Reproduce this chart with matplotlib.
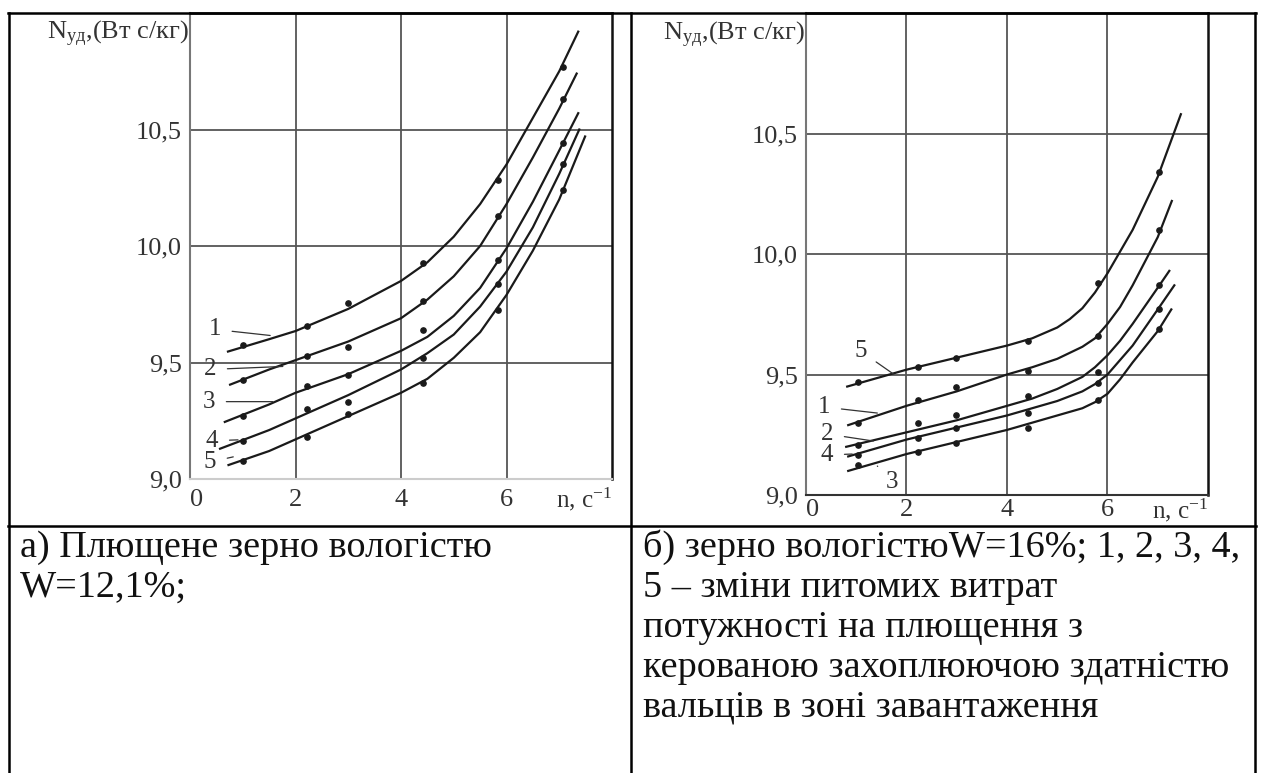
import matplotlib
matplotlib.use("Agg")
import matplotlib.pyplot as plt
from matplotlib.lines import Line2D

plt.rcParams["font.family"] = ["Liberation Serif", "DejaVu Serif"]
plt.rcParams["mathtext.fontset"] = "custom"
plt.rcParams["mathtext.rm"] = "Liberation Serif"
plt.rcParams["mathtext.it"] = "Liberation Serif:italic"

W, H = 1262, 773

# ---- chart a) W=12,1% : measured points and drawn curves
a_pts_x = [1.0, 2.22, 3.0, 4.42, 5.83, 7.07]
a_pts = {
    1: [9.573, 9.655, 9.754, 9.927, 10.284, 10.77],
    2: [9.427, 9.53, 9.565, 9.763, 10.13, 10.63],
    3: [9.27, 9.40, 9.448, 9.638, 9.94, 10.44],
    4: [9.164, 9.30, 9.33, 9.52, 9.836, 10.35],
    5: [9.078, 9.18, 9.28, 9.414, 9.724, 10.24],
}
a_curve_x = {
    1: [0.72, 1.5, 2.0, 3.0, 4.0, 4.5, 5.0, 5.5, 6.0, 6.5, 7.0, 7.36],
    2: [0.76, 1.5, 2.0, 3.0, 4.0, 4.5, 5.0, 5.5, 6.0, 6.5, 7.0, 7.33],
    3: [0.66, 1.5, 2.0, 3.0, 4.0, 4.5, 5.0, 5.5, 6.0, 6.5, 7.0, 7.36],
    4: [0.57, 1.5, 2.0, 3.0, 4.0, 4.5, 5.0, 5.5, 6.0, 6.5, 7.0, 7.38],
    5: [0.73, 1.5, 2.0, 3.0, 4.0, 4.5, 5.0, 5.5, 6.0, 6.5, 7.0, 7.49],
}
a_curve_y = {
    1: [9.547, 9.60, 9.635, 9.73, 9.85, 9.93, 10.04, 10.18, 10.35, 10.55, 10.75, 10.92],
    2: [9.405, 9.47, 9.51, 9.59, 9.69, 9.77, 9.87, 10.0, 10.18, 10.38, 10.59, 10.74],
    3: [9.245, 9.32, 9.37, 9.45, 9.55, 9.61, 9.70, 9.82, 9.99, 10.19, 10.41, 10.57],
    4: [9.13, 9.21, 9.26, 9.36, 9.47, 9.54, 9.62, 9.74, 9.89, 10.08, 10.31, 10.50],
    5: [9.06, 9.12, 9.17, 9.27, 9.37, 9.43, 9.52, 9.63, 9.79, 9.98, 10.20, 10.47],
}
# label text position, leader end
a_labels = {
    1: ((0.47, 9.642), (1.52, 9.616)),
    2: ((0.38, 9.47), (1.76, 9.483)),
    3: ((0.36, 9.332), (1.57, 9.332)),
    4: ((0.42, 9.164), (0.91, 9.168)),
    5: ((0.38, 9.073), (0.82, 9.095)),
}

# ---- chart б) W=16%
b_pts_x = [1.04, 2.22, 2.98, 4.42, 5.82, 7.03]
b_pts = {
    5: [9.469, 9.531, 9.568, 9.64, 9.88, 10.34],
    1: [9.30, 9.394, 9.448, 9.515, 9.66, 10.10],
    2: [9.207, 9.30, 9.33, 9.41, 9.51, 9.87],
    4: [9.166, 9.237, 9.28, 9.34, 9.465, 9.77],
    3: [9.124, 9.18, 9.216, 9.28, 9.394, 9.69],
}
b_curve_x = {
    5: [0.82, 2.0, 3.0, 4.0, 4.5, 5.0, 5.25, 5.5, 5.75, 6.0, 6.5, 7.0, 7.46],
    1: [0.84, 2.0, 3.0, 4.0, 4.5, 5.0, 5.5, 5.75, 6.0, 6.25, 6.5, 7.0, 7.28],
    2: [0.80, 2.0, 3.0, 4.0, 4.5, 5.0, 5.5, 5.75, 6.0, 6.25, 6.5, 7.0, 7.23],
    4: [0.84, 2.0, 3.0, 4.0, 4.5, 5.0, 5.5, 5.75, 6.0, 6.25, 6.5, 7.0, 7.33],
    3: [0.84, 2.0, 3.0, 4.0, 4.5, 5.0, 5.5, 5.75, 6.0, 6.25, 6.5, 7.0, 7.27],
}
b_curve_y = {
    5: [9.45, 9.52, 9.57, 9.62, 9.65, 9.695, 9.73, 9.775, 9.84, 9.92, 10.10, 10.32, 10.58],
    1: [9.29, 9.37, 9.43, 9.50, 9.53, 9.565, 9.615, 9.65, 9.71, 9.78, 9.87, 10.07, 10.22],
    2: [9.20, 9.26, 9.31, 9.37, 9.40, 9.44, 9.49, 9.53, 9.58, 9.64, 9.71, 9.86, 9.93],
    4: [9.16, 9.23, 9.28, 9.33, 9.36, 9.39, 9.43, 9.46, 9.50, 9.56, 9.62, 9.77, 9.87],
    3: [9.10, 9.17, 9.22, 9.27, 9.30, 9.33, 9.36, 9.385, 9.42, 9.48, 9.55, 9.68, 9.77],
}
b_labels = {
    5: ((1.08, 9.598), (1.74, 9.502)),
    1: ((0.36, 9.365), (1.42, 9.34)),
    2: ((0.42, 9.253), (1.34, 9.224)),
    4: ((0.42, 9.166), (0.92, 9.17)),
    3: ((1.72, 9.054), (1.42, 9.12)),
}

x_ticks = [0, 2, 4, 6]
y_ticks = [9.0, 9.5, 10.0, 10.5]
y_tick_labels = ["9,0", "9,5", "10,0", "10,5"]

caption_a = ["а) Плющене зерно вологістю", "W=12,1%;"]
caption_b = ["б) зерно вологістюW=16%; 1, 2, 3, 4,",
             "5 – зміни питомих витрат",
             "потужності на плющення з",
             "керованою захоплюючою здатністю",
             "вальців в зоні завантаження"]

INK = "#1a1a1a"
GRID = "#555555"
LBL = "#333333"
TICK_FS = 19


def px_box(x0, x1, y_top, y_bot):
    return [x0 / W, 1 - y_bot / H, (x1 - x0) / W, (y_bot - y_top) / H]


def draw_chart(ax, pts_x, pts, curve_x, curve_y, labels, xpad, n_y):
    ax.set_xlim(0, 8)
    ax.set_ylim(9.0, 11.0)
    for k in curve_x:
        ax.plot(curve_x[k], curve_y[k], color=INK, lw=1.6, zorder=3)
        ax.plot(pts_x, pts[k], "o", color=INK, ms=3.8, zorder=4)
    for k, (txt, end) in labels.items():
        ax.annotate(str(k), xy=end, xytext=txt, fontsize=18, color=LBL,
                    ha="center", va="center",
                    arrowprops=dict(arrowstyle="-", color=LBL, lw=0.9,
                                    shrinkA=6, shrinkB=0))
    ax.set_xticks(x_ticks)
    ax.set_xticklabels([str(t) for t in x_ticks], fontsize=TICK_FS, color=LBL)
    ax.get_xticklabels()[0].set_ha("left")
    ax.set_yticks(y_ticks)
    ax.set_yticklabels(y_tick_labels, fontsize=TICK_FS, color=LBL)
    ax.tick_params(axis="y", length=0, pad=6)
    ax.tick_params(axis="x", length=0, pad=xpad)
    ax.grid(True, color=GRID, lw=1.3)
    ax.set_axisbelow(True)
    for s in ("left", "bottom"):
        ax.spines[s].set_color("#777777")
        ax.spines[s].set_linewidth(1.5)
    ax.spines["right"].set_color("#111111")
    ax.spines["right"].set_linewidth(1.8)
    ax.spines["top"].set_color("#111111")
    ax.spines["top"].set_linewidth(1.8)
    ax.text(1.0, n_y, "n, с$^{-1}$", transform=ax.transAxes, ha="right", va="top",
            fontsize=18, color=LBL)
    ax.text(-0.003, 0.955, "N$_{\\mathrm{уд}}$,(Вт с/кг)", transform=ax.transAxes,
            ha="right", va="center", fontsize=TICK_FS, color=LBL)


fig = plt.figure(figsize=(W / 100, H / 100), dpi=100)

ax_a = fig.add_axes(px_box(190, 612, 13, 479))
draw_chart(ax_a, a_pts_x, a_pts, a_curve_x, a_curve_y, a_labels, 7, -0.014)
ax_a.spines["bottom"].set_color("#cccccc")

ax_b = fig.add_axes(px_box(806, 1208, 13, 495))
draw_chart(ax_b, b_pts_x, b_pts, b_curve_x, b_curve_y, b_labels, 3, -0.004)
ax_b.spines["bottom"].set_color("#333333")


# table frame
def hline(y, x0, x1):
    fig.add_artist(Line2D([x0 / W, x1 / W], [1 - y / H, 1 - y / H], color="#000000", lw=1.8))


def vline(x, y0, y1):
    fig.add_artist(Line2D([x / W, x / W], [1 - y0 / H, 1 - y1 / H], color="#000000", lw=1.8))


hline(13, 8, 1256)
hline(526, 8, 1256)
vline(9, 13, 773)
vline(631, 13, 773)
vline(1255, 13, 773)

CAP_FS = 27.5
for i, line in enumerate(caption_a):
    fig.text(20 / W, 1 - (557 + 40 * i) / H, line, fontsize=CAP_FS, ha="left",
             va="baseline", color="#111111")
for i, line in enumerate(caption_b):
    fig.text(643 / W, 1 - (557 + 40 * i) / H, line, fontsize=CAP_FS, ha="left",
             va="baseline", color="#111111")

fig.savefig("out.png", dpi=100)
